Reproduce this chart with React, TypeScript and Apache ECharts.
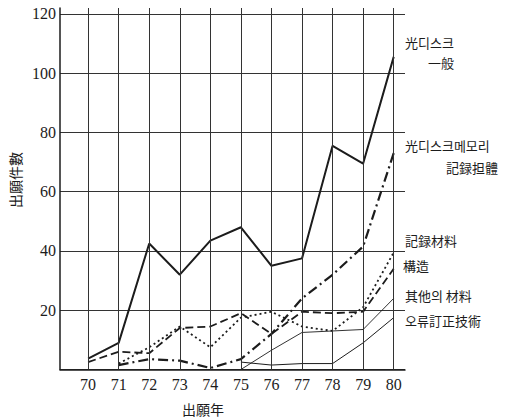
import React, { useEffect, useRef } from "react";
import * as echarts from "echarts";

const years = [70, 71, 72, 73, 74, 75, 76, 77, 78, 79, 80];
const yTicks = [20, 40, 60, 80, 100, 120];

const general = [3.7, 9, 42.5, 32, 43.5, 48, 35, 37.5, 75.5, 69.5, 105.5];
const memory = [null, 1.5, 3.5, 3, 0.5, 3.5, 12, 24, 32, 41.5, 73];
const material = [null, 2, 7.5, 14.5, 7.5, 17.5, 19.5, 14.5, 13, 21, 39.5];
const structure = [2.5, 6, 5.5, 14, 14.5, 19, 12, 19.5, 19, 19.5, 34];
const otherMaterial = [null, null, null, null, null, 0, 6.5, 12.5, 13, 13.5, 24];
const errorCorrection = [null, null, null, null, null, 2.5, 1.5, 2, 2, 9, 17.5];

const seriesNames = [
  "光디스크 一般",
  "光디스크메모리 記録担體",
  "記録材料",
  "構造",
  "其他의 材料",
  "오류訂正技術",
];

const INK = "#1c1c1c";
const CJK = "'Noto Sans CJK KR', 'Noto Sans CJK JP', sans-serif";
const SERIF = "'Liberation Serif', 'DejaVu Serif', serif";

function pairs(vals: (number | null)[]) {
  return years.map((y, i) => [y, vals[i]]).filter((p) => p[1] !== null);
}

export default function App() {
  const ref = useRef<HTMLDivElement>(null);
  useEffect(() => {
    if (!ref.current) return;
    const chart = echarts.init(ref.current, null, { renderer: "svg" });
    const mk = (
      name: string,
      vals: (number | null)[],
      width: number,
      type: any,
      extra: any = {}
    ) => ({
      name,
      type: "line",
      data: pairs(vals),
      symbol: "none",
      silent: true,
      lineStyle: { color: INK, width, type, cap: "butt" },
      ...extra,
    });
    const textStyle = (t: string, x: number, y: number) => ({
      type: "text",
      left: x,
      top: y,
      style: { text: t, font: `13px ${CJK}`, fill: INK },
    });
    chart.setOption({
      animation: false,
      backgroundColor: "#ffffff",
      grid: { left: 60, top: 8, width: 345, height: 361.5, containLabel: false },
      xAxis: {
        type: "value",
        min: 69.08,
        max: 80.37,
        axisLine: { show: true, lineStyle: { color: INK, width: 1.5 } },
        axisTick: { show: false },
        splitLine: { show: false },
        axisLabel: {
          customValues: years,
          color: INK,
          fontFamily: SERIF,
          fontSize: 16,
          margin: 7,
        },
      },
      yAxis: {
        type: "value",
        min: 0,
        max: 122,
        interval: 20,
        axisLine: { show: true, lineStyle: { color: INK, width: 1.5 } },
        axisTick: { show: false },
        splitLine: {
          show: true,
          showMaxLine: false,
          lineStyle: { color: "#333", width: 1 },
        },
        axisLabel: {
          color: INK,
          fontFamily: SERIF,
          fontSize: 16,
          margin: 4,
          formatter: (v: number) => (yTicks.indexOf(v) >= 0 ? String(v) : ""),
        },
      },
      series: [
        mk(seriesNames[0], general, 2, "solid", {
          markLine: {
            silent: true,
            symbol: ["none", "none"],
            label: { show: false },
            lineStyle: { color: "#333", width: 1, type: "solid" },
            data: years.map((y) => ({ xAxis: y })),
          },
        }),
        mk(seriesNames[1], memory, 2.2, [10, 4, 2, 4]),
        mk(seriesNames[2], material, 1.8, [2, 3]),
        mk(seriesNames[3], structure, 1.8, [8, 4]),
        mk(seriesNames[4], otherMaterial, 0.9, "solid"),
        mk(seriesNames[5], errorCorrection, 1, "solid"),
      ],
      graphic: [
        textStyle("光디스크", 405, 36),
        textStyle("一般", 428, 56),
        textStyle("光디스크메모리", 405, 139),
        textStyle("記録担體", 446, 161),
        textStyle("記録材料", 405, 234),
        textStyle("構造", 403, 259),
        textStyle("其他의 材料", 405, 289),
        textStyle("오류訂正技術", 405, 314),
        {
          type: "text",
          left: 182,
          top: 402,
          style: { text: "出願年", font: `14px ${CJK}`, fill: INK },
        },
        {
          type: "text",
          x: 8,
          y: 208,
          rotation: Math.PI / 2,
          style: { text: "出願件數", font: `14px ${CJK}`, fill: INK },
        },
      ],
    });
    return () => chart.dispose();
  }, []);
  return (
    <div
      ref={ref}
      style={{ position: "fixed", left: 0, top: 0, width: 515, height: 418 }}
    />
  );
}
